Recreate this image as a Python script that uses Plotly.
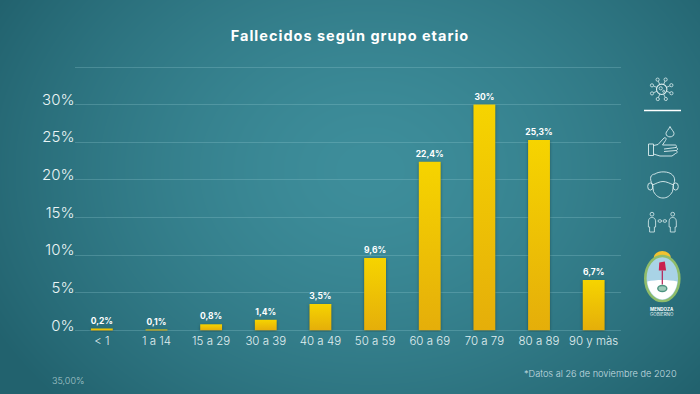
import base64, struct, zlib
import numpy as np
import plotly.graph_objects as go

categories = ["< 1", "1 a 14", "15 a 29", "30 a 39", "40 a 49", "50 a 59", "60 a 69", "70 a 79", "80 a 89", "90 y màs"]
values = [0.2, 0.1, 0.8, 1.4, 3.5, 9.6, 22.4, 30, 25.3, 6.7]
value_labels = ["0,2%", "0,1%", "0,8%", "1,4%", "3,5%", "9,6%", "22,4%", "30%", "25,3%", "6,7%"]
y_ticks = [0, 5, 10, 15, 20, 25, 30, 35]
y_tick_labels = ["0%", "5%", "10%", "15%", "20%", "25%", "30%", ""]
title = "Fallecidos según grupo etario"
note = "*Datos al 26 de noviembre de 2020"
stray = "35,00%"

W, H = 700, 394
FONT = "Inter"


def png_uri(a):
    h, w, _ = a.shape
    raw = b"".join(b"\x00" + a[i].tobytes() for i in range(h))
    def chunk(t, d):
        return struct.pack(">I", len(d)) + t + d + struct.pack(">I", zlib.crc32(t + d) & 0xffffffff)
    data = (b"\x89PNG\r\n\x1a\n" + chunk(b"IHDR", struct.pack(">IIBBBBB", w, h, 8, 2, 0, 0, 0))
            + chunk(b"IDAT", zlib.compress(raw, 9)) + chunk(b"IEND", b""))
    return "data:image/png;base64," + base64.b64encode(data).decode()


yy, xx = np.mgrid[0:H, 0:W]
r = np.sqrt(((xx - 370) / 430.0) ** 2 + ((yy - 170) / 340.0) ** 2)
r = np.clip(r, 0, 1)[..., None]
inner = np.array([62, 142, 155.0])
outer = np.array([34, 98, 110.0])
bg = (inner + (outer - inner) * r ** 1.5).astype(np.uint8)

fig = go.Figure()
fig.add_trace(go.Bar(
    x=categories, y=values, text=value_labels, textposition="outside", cliponaxis=False,
    textangle=0, constraintext="none",
    textfont=dict(family=FONT, size=8.5, color="#ffffff", weight=700),
    marker=dict(color="#f0c400", line=dict(width=0)), hoverinfo="skip",
))
fig.add_trace(go.Scatter(x=[0], y=[0], xaxis="x2", yaxis="y2", mode="markers",
                         marker=dict(opacity=0), hoverinfo="skip", showlegend=False))

LINE = "#dcedef"
GREEN = "#8fbc6a"


def s_path(d, color=LINE, width=0.9, fill=None):
    return dict(type="path", xref="x2", yref="y2", path=d, layer="above",
                line=dict(color=color, width=width), fillcolor=fill or "rgba(0,0,0,0)")


def s_circle(cx, cy, rx, ry=None, color=LINE, width=0.9, fill=None):
    ry = rx if ry is None else ry
    return dict(type="circle", xref="x2", yref="y2", x0=cx - rx, x1=cx + rx, y0=cy - ry, y1=cy + ry,
                layer="above", line=dict(color=color, width=width), fillcolor=fill or "rgba(0,0,0,0)")


shapes = []
# divider
shapes.append(s_path("M644,110.5 L681,110.5", "#ffffff", 1.5))
# virus icon
vx, vy = 661.7, 89.3
shapes += [s_circle(vx, vy, 5.2, width=1.1), s_circle(vx - 1, vy - 1, 1.6, width=.8), s_circle(vx + 2, vy + 2, 1.0, width=.8)]
for ang in range(0, 360, 45):
    c, sn = np.cos(np.radians(ang + 22)), np.sin(np.radians(ang + 22))
    shapes.append(s_path(f"M{vx+c*5.2:.1f},{vy+sn*5.2:.1f} L{vx+c*8.8:.1f},{vy+sn*8.8:.1f}", width=.8))
    shapes.append(s_circle(vx + c * 10.5, vy + sn * 10.5, 1.6, width=.8))
# drop and hand
shapes.append(s_path("M670,126.5 C668.5,130 666,131.5 666,133.5 C666,138 674,138 674,133.5 C674,131.5 671.5,130 670,126.5 Z"))
shapes.append(s_path("M648.5,144 L653.5,144 L653.5,155.5 L648.5,155.5 Z"))
shapes.append(s_path("M653.5,145.5 L658,144.5 L664,138 C665.5,137 667,138.5 665.5,140.5 L662.5,145 L675,145 C677,145 677,147.5 675,147.5 L676,147.5 C678,147.5 678,150.5 676,150.5 C677.5,150.5 677.5,153.5 675.5,153.5 L672,156 L660,156 L653.5,154"))
shapes.append(s_path("M664,149 L676,147.5 M664,151.5 L676,150.5"))
# face with mask
shapes.append(s_path("M652.5,185 C649,178 650.5,174.5 655,174 C659,171 669,171 672.5,175 C675.5,178 675,182 673,185"))
shapes.append(s_path("M652.5,185 C656,183.5 659.5,181.5 663,181.5 C666.5,181.5 670,183.5 673.5,185 L672.5,191.5 C670,196 667,198 663,198 C659,198 656,196 653.5,191.5 Z"))
shapes.append(s_circle(650.3, 186.5, 2.6, 3.6))
shapes.append(s_circle(675.7, 186.5, 2.6, 3.6))
# two people
for px in (652, 672.7):
    shapes.append(s_circle(px, 214.2, 1.9, width=.8))
    shapes.append(s_path(f"M{px-3.6},222 C{px-3.6},218.5 {px-2},217.5 {px},217.5 C{px+2},217.5 {px+3.6},218.5 {px+3.6},222 L{px+3.6},227 L{px+2.4},227 L{px+2.4},232 L{px-2.4},232 L{px-2.4},227 L{px-3.6},227 Z", width=.8))
shapes.append(s_circle(659.8, 221, 1.8, 1.3, width=.8))
shapes.append(s_circle(664.8, 221, 1.8, 1.3, width=.8))
# provincial emblem
ex, ey = 662.3, 278.5
shapes.append(s_circle(ex, ey - 21, 8.5, 6.5, color="#f2c230", width=0, fill="#f2c230"))
shapes.append(s_circle(ex, ey, 17, 22.5, color=GREEN, width=2.6, fill="#a9d3e6"))
shapes.append(s_path(f"M{ex-15},{ey+3} C{ex-6},{ey+1} {ex+6},{ey+1} {ex+15},{ey+3} C{ex+14.5},{ey+12} {ex+8},{ey+20.5} {ex},{ey+21} C{ex-8},{ey+20.5} {ex-14.5},{ey+12} {ex-15},{ey+3} Z",
                  color="#ffffff", width=0, fill="#ffffff"))
shapes.append(s_path(f"M{ex},{ey-8} L{ex},{ey+6}", color="#b51f55", width=1.2))
shapes.append(s_path(f"M{ex-3},{ey-16} L{ex+2.5},{ey-17} L{ex+3.8},{ey-8} L{ex-3.5},{ey-8} Z", color="#c9204f", width=0, fill="#c9204f"))
shapes.append(s_circle(ex, ey + 10, 4.5, 3, color="#4c9480", width=1.4, fill="#9cc9b8"))

annotations = [
    dict(text=note, xref="paper", yref="paper", x=522 / W, y=1 - 373.5 / H, xanchor="left", yanchor="middle",
         showarrow=False, font=dict(family=FONT, size=9.2, color="#c4dde0", weight=300)),
    dict(text=stray, xref="paper", yref="paper", x=50 / W, y=1 - 380.5 / H, xanchor="left", yanchor="middle",
         showarrow=False, font=dict(family=FONT, size=9, color="#a8c8cc", weight=300)),
    dict(text="MENDOZA", xref="paper", yref="paper", x=662.3 / W, y=1 - 309 / H, xanchor="center", yanchor="middle",
         showarrow=False, font=dict(family=FONT, size=4.5, color="#ffffff", weight=700)),
    dict(text="GOBIERNO", xref="paper", yref="paper", x=662.3 / W, y=1 - 314.5 / H, xanchor="center", yanchor="middle",
         showarrow=False, font=dict(family=FONT, size=4.5, color="#e6f3f4")),
]

fig.update_layout(
    width=W, height=H, margin=dict(l=0, r=0, t=0, b=0, autoexpand=False), showlegend=False, autosize=False,
    paper_bgcolor="#2f7884", plot_bgcolor="rgba(0,0,0,0)", bargap=0.6,
    title=dict(text=title, x=350 / W, xanchor="center", y=1 - 35.5 / H, yanchor="middle",
               font=dict(family=FONT, size=14.5, color="#ffffff", weight=700)),
    images=[dict(source=png_uri(bg), xref="paper", yref="paper", x=0, y=1, sizex=1, sizey=1,
                 sizing="stretch", layer="below", xanchor="left", yanchor="top")],
    xaxis=dict(domain=[74.5 / W, 621 / W], showgrid=False, zeroline=False, showline=False, ticks="",
               tickfont=dict(family=FONT, size=11.5, color="#e0eff1", weight=300), ticklabelstandoff=1),
    yaxis=dict(domain=[1 - 331.8 / H, 1 - 65.5 / H], range=[-0.2, 35.2], tickvals=y_ticks, ticktext=y_tick_labels,
               gridcolor="rgba(150,205,212,0.28)", gridwidth=1, zeroline=False, showline=False, ticks="",
               tickfont=dict(family=FONT, size=15, color="#eaf5f6", weight=300), ticklabelshift=-5,
               ticklabelstandoff=-1),
    xaxis2=dict(domain=[0, 1], range=[0, W], visible=False, anchor="y2", fixedrange=True),
    yaxis2=dict(domain=[0, 1], range=[H, 0], visible=False, anchor="x2", fixedrange=True),
    shapes=shapes, annotations=annotations,
)

post = """
document.documentElement.style.margin='0';
document.body.style.margin='0';
document.body.style.overflow='hidden';
var gd = document.querySelector('.plotly-graph-div');
var svg = gd.querySelector('svg.main-svg');
var ns = 'http://www.w3.org/2000/svg';
var defs = svg.querySelector('defs') || svg.insertBefore(document.createElementNS(ns,'defs'), svg.firstChild);
var g = document.createElementNS(ns,'linearGradient');
g.setAttribute('id','bargrad'); g.setAttribute('x1','0'); g.setAttribute('y1','0'); g.setAttribute('x2','0'); g.setAttribute('y2','1');
[['0','#f6d400'],['1','#e5ae0a']].forEach(function(s){var e=document.createElementNS(ns,'stop');e.setAttribute('offset',s[0]);e.setAttribute('stop-color',s[1]);g.appendChild(e);});
defs.appendChild(g);
gd.querySelectorAll('.bars .point path').forEach(function(p){
  p.style.setProperty('fill','url(#bargrad)');
  p.style.setProperty('filter','drop-shadow(0px 1px 1.5px rgba(20,50,50,0.55))');
});
var t = gd.querySelector('.gtitle'); if (t) t.style.setProperty('letter-spacing','1px');
"""
fig.write_html("out.html", post_script=post, config=dict(displayModeBar=False))
